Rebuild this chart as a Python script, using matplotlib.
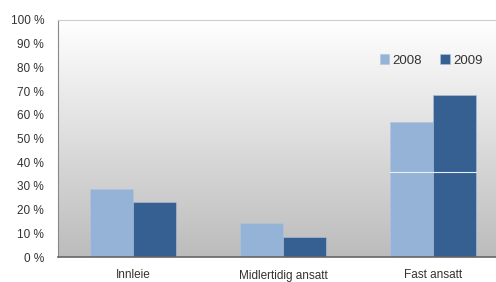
import numpy as np
import matplotlib.pyplot as plt
from matplotlib.colors import LinearSegmentedColormap

plt.rcParams['font.family'] = ['Liberation Sans', 'DejaVu Sans']

categories = ["Innleie", "Midlertidig ansatt", "Fast ansatt"]
years = ["2008", "2009"]
values_2008 = [28.8, 14.2, 57.1]
values_2009 = [23.2, 8.3, 68.4]
# faint divider line visible inside the tall bars
split_levels = [None, None, 35.7]

colors = ["#95b3d7", "#366092"]

fig = plt.figure(figsize=(4.96, 2.82), dpi=100)
ax = fig.add_axes([58 / 496, 1 - 257 / 282, 1 - 58 / 496, 237 / 282])

# gradient background, white at top to grey at bottom
grad = LinearSegmentedColormap.from_list("bg", ["#ffffff", "#bcbcbc"])
ax.imshow(np.linspace(0, 1, 256).reshape(-1, 1), cmap=grad, aspect="auto",
          extent=(-0.5, 2.42, 0, 100), origin="upper", zorder=0)

x = np.arange(len(categories))
w = 0.287
for i, (vals, c, lab) in enumerate(zip([values_2008, values_2009], colors, years)):
    ax.bar(x + (i - 0.5) * w, vals, width=w, color=c, label=lab, zorder=2,
           edgecolor="#b0c4dc", linewidth=0.4)

for xi, s in zip(x, split_levels):
    if s is not None:
        ax.plot([xi - w, xi + w], [s, s], color="#e8eef6", lw=0.8, zorder=3)

ax.set_xlim(-0.5, 2.42)
ax.set_ylim(0, 100)
ax.set_yticks(range(0, 101, 10))
ax.set_yticklabels([f"{v} %" for v in range(0, 101, 10)])
ax.set_xticks(x)
ax.set_xticklabels(categories)
ax.tick_params(axis="both", length=0, labelsize=8.5, colors="#333333")
ax.tick_params(axis="x", pad=9)
ax.tick_params(axis="y", pad=10)

ax.spines["right"].set_visible(False)
ax.spines["top"].set_color("#cccccc")
ax.spines["top"].set_linewidth(0.8)
ax.spines["left"].set_color("#888888")
ax.spines["bottom"].set_color("#666666")
ax.spines["bottom"].set_linewidth(1.2)

leg = ax.legend(loc="upper left", bbox_to_anchor=(0.708, 0.905), ncol=2,
                frameon=False, fontsize=9.5, handlelength=0.7, handleheight=0.7,
                handletextpad=0.25, columnspacing=1.4)
for t in leg.get_texts():
    t.set_color("#333333")

fig.savefig("out.png", dpi=100)
